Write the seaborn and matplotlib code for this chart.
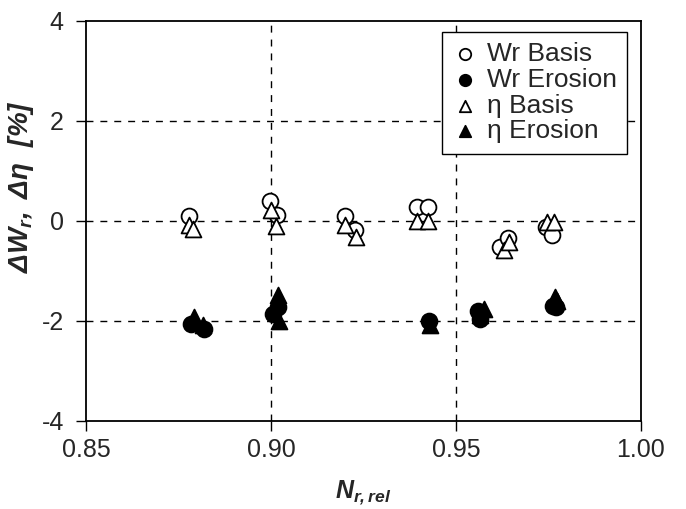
import seaborn as sns
import pandas as pd
import matplotlib.pyplot as plt

# values
wr_basis_x = [0.8778, 0.8998, 0.9016, 0.9200, 0.9228, 0.9394, 0.9423, 0.9619, 0.9640, 0.9742, 0.9759]
wr_basis_y = [0.10, 0.40, 0.12, 0.10, -0.18, 0.28, 0.28, -0.52, -0.34, -0.11, -0.28]

wr_erosion_x = [0.8785, 0.8820, 0.9006, 0.9020, 0.9428, 0.9559, 0.9565, 0.9762, 0.9770]
wr_erosion_y = [-2.05, -2.15, -1.85, -1.72, -2.00, -1.80, -1.95, -1.70, -1.72]

eta_basis_x = [0.8778, 0.8790, 0.9000, 0.9013, 0.9200, 0.9230, 0.9394, 0.9423, 0.9631, 0.9644, 0.9746, 0.9764]
eta_basis_y = [-0.07, -0.15, 0.22, -0.10, -0.08, -0.32, 0.00, 0.00, -0.58, -0.41, -0.01, -0.01]

eta_erosion_x = [0.8792, 0.8816, 0.9020, 0.9022, 0.9430, 0.9575, 0.9565, 0.9767, 0.9772]
eta_erosion_y = [-1.91, -2.08, -1.47, -2.00, -2.08, -1.75, -1.88, -1.52, -1.60]

labels = ['Wr Basis', 'Wr Erosion', 'η Basis', 'η Erosion']

sns.set_style('ticks')
plt.rcParams['font.family'] = ['Liberation Sans', 'DejaVu Sans']
plt.rcParams['axes.unicode_minus'] = False
plt.rcParams['mathtext.fontset'] = 'custom'
plt.rcParams['mathtext.it'] = 'Liberation Sans:italic:bold'
plt.rcParams['mathtext.rm'] = 'Liberation Sans:italic:bold'
plt.rcParams['mathtext.bf'] = 'Liberation Sans:italic:bold'

fig = plt.figure(figsize=(6.86, 5.09), dpi=100)
ax = fig.add_axes([86 / 686, 1 - 421 / 509, 555 / 686, 400 / 509])

series = [
    (wr_basis_x, wr_basis_y, 'o', 'white', labels[0]),
    (wr_erosion_x, wr_erosion_y, 'o', 'black', labels[1]),
    (eta_basis_x, eta_basis_y, '^', 'white', labels[2]),
    (eta_erosion_x, eta_erosion_y, '^', 'black', labels[3]),
]
for xs, ys, m, fc, lab in series:
    df = pd.DataFrame({'x': xs, 'y': ys})
    sns.scatterplot(data=df, x='x', y='y', marker=m, s=130, color=fc,
                    edgecolor='black', linewidth=1.3, label=lab, ax=ax, zorder=3)

ax.set_xlim(0.85, 1.00)
ax.set_ylim(-4, 4)
ax.set_xticks([0.85, 0.90, 0.95, 1.00])
ax.set_xticklabels(['0.85', '0.90', '0.95', '1.00'])
ax.set_yticks([-4, -2, 0, 2, 4])
ax.tick_params(labelsize=18, direction='out', length=7, width=1, color='black')
ax.tick_params(axis='x', pad=5)
ax.tick_params(axis='y', pad=9)

for v in [0.90, 0.95]:
    ax.axvline(v, color='black', ls=(0, (5, 5)), lw=1, zorder=1)
for v in [-2, 0, 2]:
    ax.axhline(v, color='black', ls=(0, (5, 5)), lw=1, zorder=1)

for sp in ax.spines.values():
    sp.set_color('black')
    sp.set_linewidth(1.3)

ax.set_xlabel(r'$N_{r,rel}$', fontsize=18, labelpad=12)
ax.set_ylabel(r'$\Delta W_r,\ \Delta\eta\ \ [\%]$', fontsize=20)
ax.yaxis.set_label_coords(-0.09, 0.585)

leg = ax.legend(loc='upper right', bbox_to_anchor=(0.975, 0.973), fontsize=19,
                frameon=True, fancybox=False, edgecolor='black', framealpha=1,
                handletextpad=0.3, labelspacing=0.06, borderpad=0.4,
                handlelength=1.0, markerscale=0.72, borderaxespad=0)
leg.get_frame().set_linewidth(1.0)

fig.savefig('out.png', dpi=100)
